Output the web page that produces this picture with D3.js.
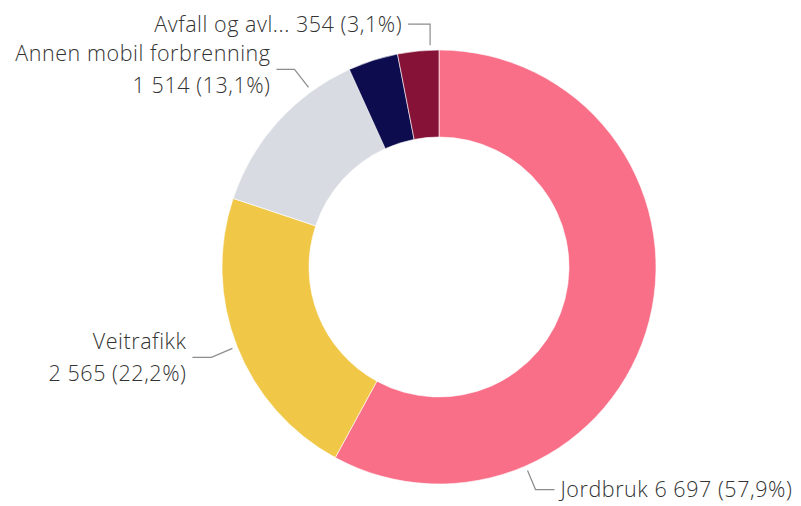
<!DOCTYPE html>
<html lang="no">
<head>
<meta charset="utf-8">
<script src="https://cdn.jsdelivr.net/npm/d3@7/dist/d3.min.js"></script>
<style>
  html, body { margin: 0; padding: 0; background: #fff; }
  svg text { font-family: "Open Sans", "Noto Sans", sans-serif; fill: #333; }
</style>
</head>
<body>
<svg id="chart" width="801" height="506"></svg>
<script>
// Utslipp per sektor (tonn CO2-ekvivalenter)
const categories = ["Jordbruk", "Veitrafikk", "Annen mobil forbrenning", "Oppvarming", "Avfall og avløp"];
const values = [6697, 2565, 1514, 430, 354];
const colors = ["#F96F88", "#F0C747", "#D8DCE2", "#0D0C4F", "#861337"];
// Label text lines; null = no label for that slice
const labelNames = [["Jordbruk"], ["Veitrafikk"], ["Annen mobil forbrenning"], null, ["Avfall og avl..."]];

// Label layout: where the connector leaves the ring (degrees clockwise from top),
// the bend offset from that point, the horizontal run and which side the text sits on
const labelLayout = [
  { angle: 156.5, bend: [8, 19], run: 19, side: "right", lines: 1 },
  { angle: 248.5, bend: [-21, 9], run: 19, side: "left", lines: 2 },
  { angle: 324, bend: [-14, -18], run: 18, side: "left", lines: 2 },
  null,
  { angle: 357.7, bend: [0, -21], run: 22, side: "left", lines: 1 }
];

const width = 801, height = 506;
const cx = 439, cy = 267;
const outerR = 217, innerR = 130;

const total = d3.sum(values);
const fmtNum = d3.formatLocale({ decimal: ",", thousands: "\u00a0", grouping: [3], currency: ["", " kr"] }).format(",d");
const fmtPct = v => (v * 100).toFixed(1).replace(".", ",") + "%";

const data = categories.map((c, i) => ({ name: c, value: values[i], color: colors[i], idx: i }));

const svg = d3.select("#chart");
const g = svg.append("g").attr("transform", `translate(${cx},${cy})`);

const pie = d3.pie().value(d => d.value).sort(null);
const arc = d3.arc().innerRadius(innerR).outerRadius(outerR);
const arcs = pie(data);

g.selectAll("path.slice")
  .data(arcs)
  .join("path")
  .attr("class", "slice")
  .attr("d", arc)
  .attr("fill", d => d.data.color)
  .attr("stroke", "#fff")
  .attr("stroke-width", 0.6);

// Connectors and labels
const labelG = g.append("g");
const lineHeight = 32;
arcs.forEach((a, i) => {
  const lay = labelLayout[i];
  const names = labelNames[i];
  if (!lay || !names) return;
  const rad = lay.angle * Math.PI / 180;
  const r0 = outerR + 5;
  const x0 = Math.sin(rad) * r0, y0 = -Math.cos(rad) * r0;
  const x1 = x0 + lay.bend[0], y1 = y0 + lay.bend[1];
  const dir = lay.side === "right" ? 1 : -1;
  const x2 = x1 + dir * lay.run;
  labelG.append("path")
    .attr("d", `M${x0},${y0}L${x1},${y1}L${x2},${y1}`)
    .attr("fill", "none")
    .attr("stroke", "#8c8c8c")
    .attr("stroke-width", 1.2);

  const valueText = fmtNum(a.data.value) + " (" + fmtPct(a.data.value / total) + ")";
  const lines = lay.lines === 1 ? [names[0] + " " + valueText] : [names[0], valueText];
  const tx = x2 + dir * 6;
  const startY = y1 - (lines.length - 1) * lineHeight / 2;
  const t = labelG.append("text")
    .attr("text-anchor", dir > 0 ? "start" : "end")
    .style("font-size", "21.5px")
    .style("font-weight", 300)
    .style("letter-spacing", "0.55px");
  lines.forEach((ln, k) => {
    t.append("tspan")
      .attr("x", tx)
      .attr("y", startY + k * lineHeight)
      .attr("dy", "0.35em")
      .text(ln);
  });
});
</script>
</body>
</html>
